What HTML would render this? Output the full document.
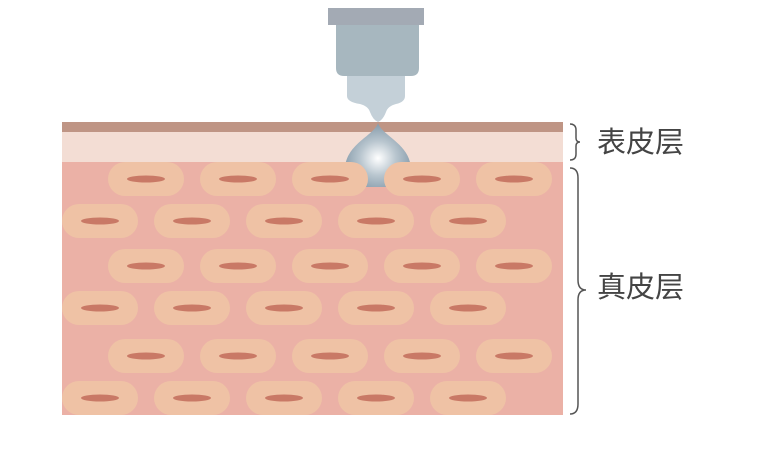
<!DOCTYPE html>
<html><head><meta charset="utf-8"><style>
html,body{margin:0;padding:0;background:#fff;width:780px;height:451px;overflow:hidden}
</style></head><body>
<svg width="780" height="451" viewBox="0 0 780 451" xmlns="http://www.w3.org/2000/svg">
<defs>
<radialGradient id="g" cx="0.5" cy="0.55" r="0.6">
<stop offset="0" stop-color="#ffffff"/><stop offset="0.45" stop-color="#b9c6cf"/><stop offset="1" stop-color="#7a91a2"/>
</radialGradient>
<g id="c"><rect x="-38" y="-17" width="76" height="34" rx="17" fill="#efc2a5"/><ellipse cx="0" cy="0" rx="19" ry="3.5" fill="#c97966"/></g>
</defs>
<rect x="62" y="122" width="501" height="10" fill="#bf9585"/>
<rect x="62" y="132" width="501" height="30" fill="#f3ddd4"/>
<rect x="62" y="162" width="501" height="253" fill="#ebb1a6"/>
<path d="M378 123 C382 136 411 144 411 170 L411 187 L345 187 L345 170 C345 144 374 136 378 123Z" fill="url(#g)"/>
<g>
<use href="#c" x="146" y="179"/><use href="#c" x="238" y="179"/><use href="#c" x="330" y="179"/><use href="#c" x="422" y="179"/><use href="#c" x="514" y="179"/>
<use href="#c" x="100" y="221"/><use href="#c" x="192" y="221"/><use href="#c" x="284" y="221"/><use href="#c" x="376" y="221"/><use href="#c" x="468" y="221"/>
<use href="#c" x="146" y="266"/><use href="#c" x="238" y="266"/><use href="#c" x="330" y="266"/><use href="#c" x="422" y="266"/><use href="#c" x="514" y="266"/>
<use href="#c" x="100" y="308"/><use href="#c" x="192" y="308"/><use href="#c" x="284" y="308"/><use href="#c" x="376" y="308"/><use href="#c" x="468" y="308"/>
<use href="#c" x="146" y="356"/><use href="#c" x="238" y="356"/><use href="#c" x="330" y="356"/><use href="#c" x="422" y="356"/><use href="#c" x="514" y="356"/>
<use href="#c" x="100" y="398"/><use href="#c" x="192" y="398"/><use href="#c" x="284" y="398"/><use href="#c" x="376" y="398"/><use href="#c" x="468" y="398"/>
</g>
<rect x="328" y="8" width="96" height="17" fill="#a3aab4"/>
<path d="M336 25 H419 V68 Q419 76 411 76 H344 Q336 76 336 68Z" fill="#a7b7bf"/>
<path d="M347 76 H405 V96 Q405 102 396 104 Q388 106 386 112 Q383 120 378 122 Q373 120 370 112 Q368 106 360 104 Q347 102 347 96Z" fill="#c4d0d8"/>
<path d="M570 124 Q576 124 576 130 V138 Q576 142 580 142 Q576 142 576 146 V154 Q576 160 570 160" fill="none" stroke="#555" stroke-width="1.5"/>
<path d="M570 168 Q578 168 578 178 V280 Q578 290 586 290 Q578 290 578 300 V404 Q578 414 570 414" fill="none" stroke="#555" stroke-width="1.5"/>
<text x="597" y="152" font-family="Liberation Sans, Noto Sans CJK SC, sans-serif" font-size="29" fill="#444">表皮层</text>
<text x="597" y="297" font-family="Liberation Sans, Noto Sans CJK SC, sans-serif" font-size="29" fill="#444">真皮层</text>
</svg>
</body></html>
